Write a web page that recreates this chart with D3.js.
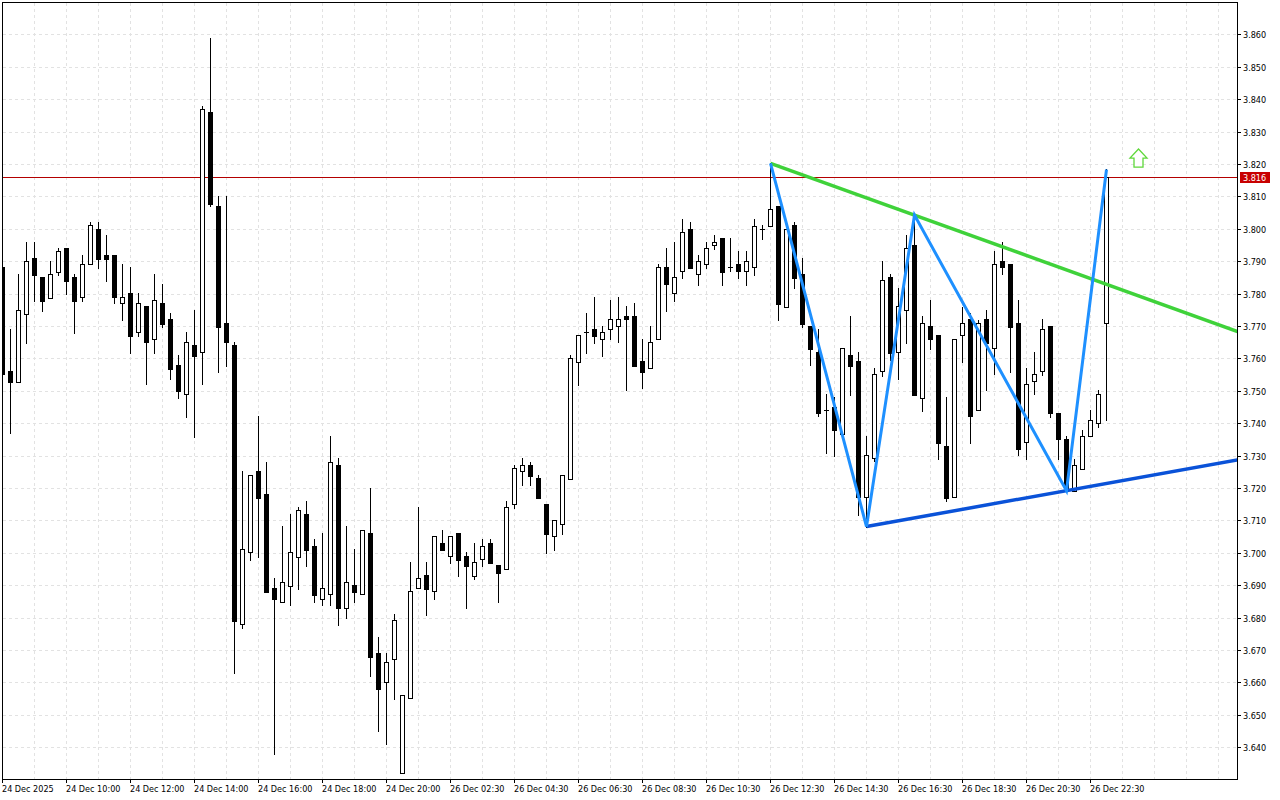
<!DOCTYPE html>
<html><head><meta charset="utf-8">
<script src="https://cdn.jsdelivr.net/npm/d3@7"></script>
<style>html,body{margin:0;padding:0;background:#fff;overflow:hidden;} svg{display:block;}</style>
</head><body><svg id="chart" width="1280" height="800"></svg>
<script>
// ---- data (M15 candles) ----
const openP = [3.7883,3.7561,3.7528,3.7738,3.7910,3.7851,3.7787,3.7867,3.7941,3.7851,
3.7788,3.7890,3.7998,3.7918,3.7918,3.7770,3.7801,3.7681,3.7761,3.7659,
3.7770,3.7721,3.7579,3.7489,3.7640,3.7619,3.8359,3.8069,3.7708,3.7640,
3.6780,3.7002,3.7252,3.7182,3.6892,3.6849,3.6899,3.6988,3.7120,3.7021,
3.6859,3.6872,3.7271,3.6831,3.6901,3.6872,3.7061,3.6691,3.6601,3.6672,
3.6320,3.6551,3.6891,3.6931,3.6881,3.7030,3.6989,3.7060,3.6989,3.6930,
3.6980,3.7030,3.6963,3.6949,3.7150,3.7252,3.7271,3.7230,3.7150,3.7051,
3.7090,3.7229,3.7590,3.7681,3.7691,3.7659,3.7690,3.7700,3.7730,3.7731,
3.7592,3.7569,3.7659,3.7881,3.7801,3.7869,3.7999,3.7860,3.7890,3.7949,
3.7971,3.7881,3.7890,3.7869,3.7881,3.7998,3.8009,3.8070,3.7760,3.8011,
3.7860,3.7700,3.7620,3.7440,3.7451,3.7368,3.7610,3.7592,3.7171,3.7292,
3.7560,3.7851,3.7619,3.7748,3.7949,3.7479,3.7699,3.7672,3.7330,3.7171,
3.7671,3.7721,3.7440,3.7721,3.7631,3.7900,3.7890,3.7710,3.7341,3.7530,
3.7560,3.7700,3.7431,3.7350,3.7192,3.7260,3.7360,3.7400,3.7708];
const highP = [3.7897,3.7691,3.7860,3.7959,3.7959,3.7851,3.7900,3.7940,3.7941,3.7860,
3.7918,3.8021,3.8021,3.7981,3.7918,3.7891,3.7882,3.7801,3.7762,3.7860,
3.7830,3.7739,3.7610,3.7681,3.7748,3.8378,3.8588,3.8100,3.8100,3.7650,
3.7252,3.7239,3.7422,3.7280,3.6922,3.7083,3.7120,3.7142,3.7160,3.7042,
3.7062,3.7361,3.7293,3.7084,3.7012,3.7070,3.7200,3.6740,3.6690,3.6811,
3.6560,3.6973,3.7141,3.6972,3.7051,3.7071,3.7051,3.7060,3.7002,3.7030,
3.7042,3.7043,3.6963,3.7160,3.7271,3.7293,3.7280,3.7240,3.7150,3.7100,
3.7239,3.7610,3.7671,3.7740,3.7790,3.7700,3.7780,3.7790,3.7762,3.7771,
3.7660,3.7700,3.7890,3.7940,3.7959,3.8030,3.8021,3.7918,3.7959,3.7980,
3.7971,3.7971,3.7930,3.7930,3.8030,3.8011,3.8202,3.8070,3.7999,3.8021,
3.7910,3.7700,3.7691,3.7490,3.7482,3.7631,3.7731,3.7619,3.7361,3.7569,
3.7900,3.7860,3.7818,3.7980,3.8042,3.7731,3.7780,3.7672,3.7481,3.7659,
3.7760,3.7740,3.7720,3.7749,3.7930,3.7958,3.7890,3.7780,3.7570,3.7621,
3.7722,3.7700,3.7431,3.7361,3.7291,3.7380,3.7440,3.7502,3.8183];
const lowP = [3.7540,3.7369,3.7528,3.7648,3.7778,3.7746,3.7786,3.7857,3.7799,3.7679,
3.7778,3.7890,3.7880,3.7840,3.7770,3.7719,3.7618,3.7670,3.7520,3.7618,
3.7698,3.7537,3.7479,3.7420,3.7358,3.7520,3.8070,3.7559,3.7577,3.6630,
3.6769,3.6978,3.6988,3.6879,3.6379,3.6849,3.6839,3.6888,3.6959,3.6848,
3.6839,3.6839,3.6777,3.6800,3.6849,3.6872,3.6621,3.6451,3.6411,3.6550,
3.6320,3.6551,3.6891,3.6808,3.6858,3.7010,3.6970,3.6930,3.6831,3.6920,
3.6960,3.6970,3.6849,3.6949,3.7139,3.7210,3.7210,3.7170,3.7000,3.7009,
3.7059,3.7229,3.7518,3.7618,3.7648,3.7608,3.7659,3.7650,3.7502,3.7577,
3.7510,3.7569,3.7659,3.7747,3.7778,3.7849,3.7880,3.7827,3.7880,3.7938,
3.7827,3.7871,3.7849,3.7827,3.7858,3.7969,3.8009,3.7719,3.7760,3.7818,
3.7698,3.7579,3.7422,3.7309,3.7300,3.7368,3.7487,3.7117,3.7081,3.7283,
3.7546,3.7595,3.7537,3.7648,3.7488,3.7439,3.7630,3.7291,3.7159,3.7171,
3.7590,3.7340,3.7440,3.7502,3.7551,3.7860,3.7559,3.7301,3.7291,3.7490,
3.7549,3.7420,3.7291,3.7192,3.7192,3.7260,3.7360,3.7389,3.7409];
const closeP = [3.7551,3.7528,3.7748,3.7900,3.7858,3.7778,3.7860,3.7930,3.7840,3.7778,
3.7890,3.8011,3.7908,3.7908,3.7788,3.7789,3.7670,3.7770,3.7650,3.7779,
3.7707,3.7568,3.7500,3.7650,3.7608,3.8369,3.8077,3.7698,3.7650,3.6791,
3.7011,3.7239,3.7170,3.6880,3.6859,3.6909,3.7002,3.7131,3.7010,3.6871,
3.6892,3.7280,3.6831,3.6909,3.6880,3.7070,3.6680,3.6581,3.6662,3.6793,
3.6560,3.6882,3.6921,3.6889,3.7051,3.7010,3.7051,3.6979,3.6960,3.6971,
3.7021,3.6970,3.6939,3.7141,3.7261,3.7270,3.7238,3.7170,3.7059,3.7100,
3.7239,3.7600,3.7671,3.7681,3.7670,3.7681,3.7721,3.7721,3.7721,3.7577,
3.7559,3.7650,3.7881,3.7829,3.7850,3.7989,3.7880,3.7900,3.7940,3.7959,
3.7867,3.7881,3.7869,3.7900,3.8009,3.7998,3.8060,3.7769,3.7999,3.7849,
3.7706,3.7630,3.7430,3.7440,3.7379,3.7631,3.7577,3.7173,3.7301,3.7552,
3.7841,3.7618,3.7761,3.7940,3.7488,3.7708,3.7659,3.7340,3.7170,3.7659,
3.7708,3.7421,3.7708,3.7648,3.7890,3.7881,3.7698,3.7320,3.7521,3.7551,
3.7690,3.7430,3.7350,3.7199,3.7270,3.7361,3.7409,3.7489,3.8160];

const priceTicks = [3.640,3.650,3.660,3.670,3.680,3.690,3.700,3.710,3.720,3.730,3.740,3.750,
3.760,3.770,3.780,3.790,3.800,3.810,3.820,3.830,3.840,3.850,3.860];
const timeLabels = ["24 Dec 2025","24 Dec 10:00","24 Dec 12:00","24 Dec 14:00","24 Dec 16:00",
"24 Dec 18:00","24 Dec 20:00","26 Dec 02:30","26 Dec 04:30","26 Dec 06:30","26 Dec 08:30",
"26 Dec 10:30","26 Dec 12:30","26 Dec 14:30","26 Dec 16:30","26 Dec 18:30","26 Dec 20:30","26 Dec 22:30"];
const timeLabelIdx = [0,8,16,24,32,40,48,56,64,72,80,88,96,104,112,120,128,136];

const zigzagIdx = [96,108,114,133,138];
const zigzagPrice = [3.8202,3.7081,3.8042,3.7192,3.8183];
const resistIdx = [96,114];      const resistPrice = [3.8202,3.8042];
const supportIdx = [108,133];    const supportPrice = [3.7081,3.7192];
const currentPrice = 3.816;
const arrowIdx = 142, arrowPrice = 3.8246;

// ---- layout ----
const L = 2, T = 2, R = 1237, B = 779;
const svg = d3.select("#chart");
const x = d3.scaleLinear().domain([0, 1]).range([2.5, 10.5]);
const y = d3.scaleLinear().domain([3.860, 3.640]).range([34.3, 747.3]);
const cy = v => Math.round(y(v)) + 0.5;
const kMax = x.invert(R);
const fontFam = "'DejaVu Sans Condensed','DejaVu Sans',sans-serif";

svg.append("rect").attr("width",1280).attr("height",800).attr("fill","#fff");
svg.append("defs").append("clipPath").attr("id","plot")
  .append("rect").attr("x",L).attr("y",T).attr("width",R-L).attr("height",B-T);

// grid
const grid = svg.append("g").attr("stroke","#e2e2e2").attr("stroke-width",1).attr("stroke-dasharray","3,3");
priceTicks.forEach(p => grid.append("line").attr("x1",L+1).attr("x2",R).attr("y1",cy(p)).attr("y2",cy(p)));
d3.range(4, kMax, 4).forEach(k => grid.append("line").attr("x1",x(k)).attr("x2",x(k)).attr("y1",T+1).attr("y2",B));

// current price line
svg.append("line").attr("x1",L).attr("x2",R).attr("y1",cy(currentPrice)).attr("y2",cy(currentPrice))
  .attr("stroke","#b40000").attr("stroke-width",1);

// candles
const gc = svg.append("g").attr("clip-path","url(#plot)");
openP.forEach((o,i) => {
  const c = closeP[i], h = highP[i], l = lowP[i];
  const xc = x(i);
  gc.append("line").attr("x1",xc).attr("x2",xc).attr("y1",Math.round(y(h))).attr("y2",Math.round(y(l))+1)
    .attr("stroke","#000").attr("stroke-width",1);
  const yt = Math.round(y(Math.max(o,c))), yb = Math.round(y(Math.min(o,c)));
  if (yb - yt < 1) {
    gc.append("line").attr("x1",xc-2.5).attr("x2",xc+2.5).attr("y1",yt+0.5).attr("y2",yt+0.5)
      .attr("stroke","#000").attr("stroke-width",1);
  } else if (c >= o) {
    gc.append("rect").attr("x",xc-2).attr("y",yt+0.5).attr("width",4).attr("height",yb-yt)
      .attr("fill","#fff").attr("stroke","#000").attr("stroke-width",1);
  } else {
    gc.append("rect").attr("x",xc-2.5).attr("y",yt).attr("width",5).attr("height",yb-yt+1)
      .attr("fill","#000");
  }
});

// trend lines (rays to the right edge)
const gl = svg.append("g").attr("clip-path","url(#plot)").attr("fill","none");
function ray(idx, pr, color, w) {
  const slope = (pr[1]-pr[0])/(idx[1]-idx[0]);
  const kEnd = kMax + 2;
  gl.append("line").attr("x1",x(idx[0])).attr("y1",y(pr[0]))
    .attr("x2",x(kEnd)).attr("y2",y(pr[0]+slope*(kEnd-idx[0])))
    .attr("stroke",color).attr("stroke-width",w);
}
ray(resistIdx, resistPrice, "#3fd23a", 3.5);
ray(supportIdx, supportPrice, "#0a52d8", 3.5);
gl.append("path").datum(zigzagIdx.map((k,i)=>[k,zigzagPrice[i]]))
  .attr("d", d3.line().x(d=>x(d[0])).y(d=>y(d[1])))
  .attr("stroke","#1e90ff").attr("stroke-width",3).attr("stroke-linejoin","miter");

// signal arrow
const ax = x(arrowIdx), ay = y(arrowPrice);
svg.append("path")
  .attr("d", `M${ax},${ay} L${ax+8.5},${ay+9} L${ax+4.5},${ay+9} L${ax+4.5},${ay+18} L${ax-4.5},${ay+18} L${ax-4.5},${ay+9} L${ax-8.5},${ay+9} Z`)
  .attr("fill","#fff").attr("stroke","#5fd83a").attr("stroke-width",1.3);

// frame
svg.append("rect").attr("x",L+0.5).attr("y",T+0.5).attr("width",R-L).attr("height",B-T)
  .attr("fill","none").attr("stroke","#000").attr("stroke-width",1);

// price axis
const pa = svg.append("g").attr("font-family",fontFam).attr("font-size","9px").attr("fill","#000");
priceTicks.forEach(p => {
  pa.append("line").attr("x1",R).attr("x2",R+4).attr("y1",cy(p)).attr("y2",cy(p)).attr("stroke","#000");
  pa.append("text").attr("x",R+6).attr("y",cy(p)).attr("dy","0.35em").text(d3.format(".3f")(p));
});
// current price label
svg.append("rect").attr("x",R+3).attr("y",cy(currentPrice)-5.5).attr("width",30).attr("height",11).attr("fill","#c80000");
svg.append("text").attr("x",R+6).attr("y",cy(currentPrice)).attr("dy","0.35em")
  .attr("font-family",fontFam).attr("font-size","9px").attr("fill","#fff").text(d3.format(".3f")(currentPrice));

// time axis
const ta = svg.append("g").attr("font-family",fontFam).attr("font-size","9px").attr("fill","#000");
timeLabelIdx.forEach((k,i) => {
  ta.append("line").attr("x1",x(k)).attr("x2",x(k)).attr("y1",B).attr("y2",B+4).attr("stroke","#000");
  ta.append("text").attr("x",x(k)-0.5).attr("y",792).text(timeLabels[i]);
});
</script></body></html>
